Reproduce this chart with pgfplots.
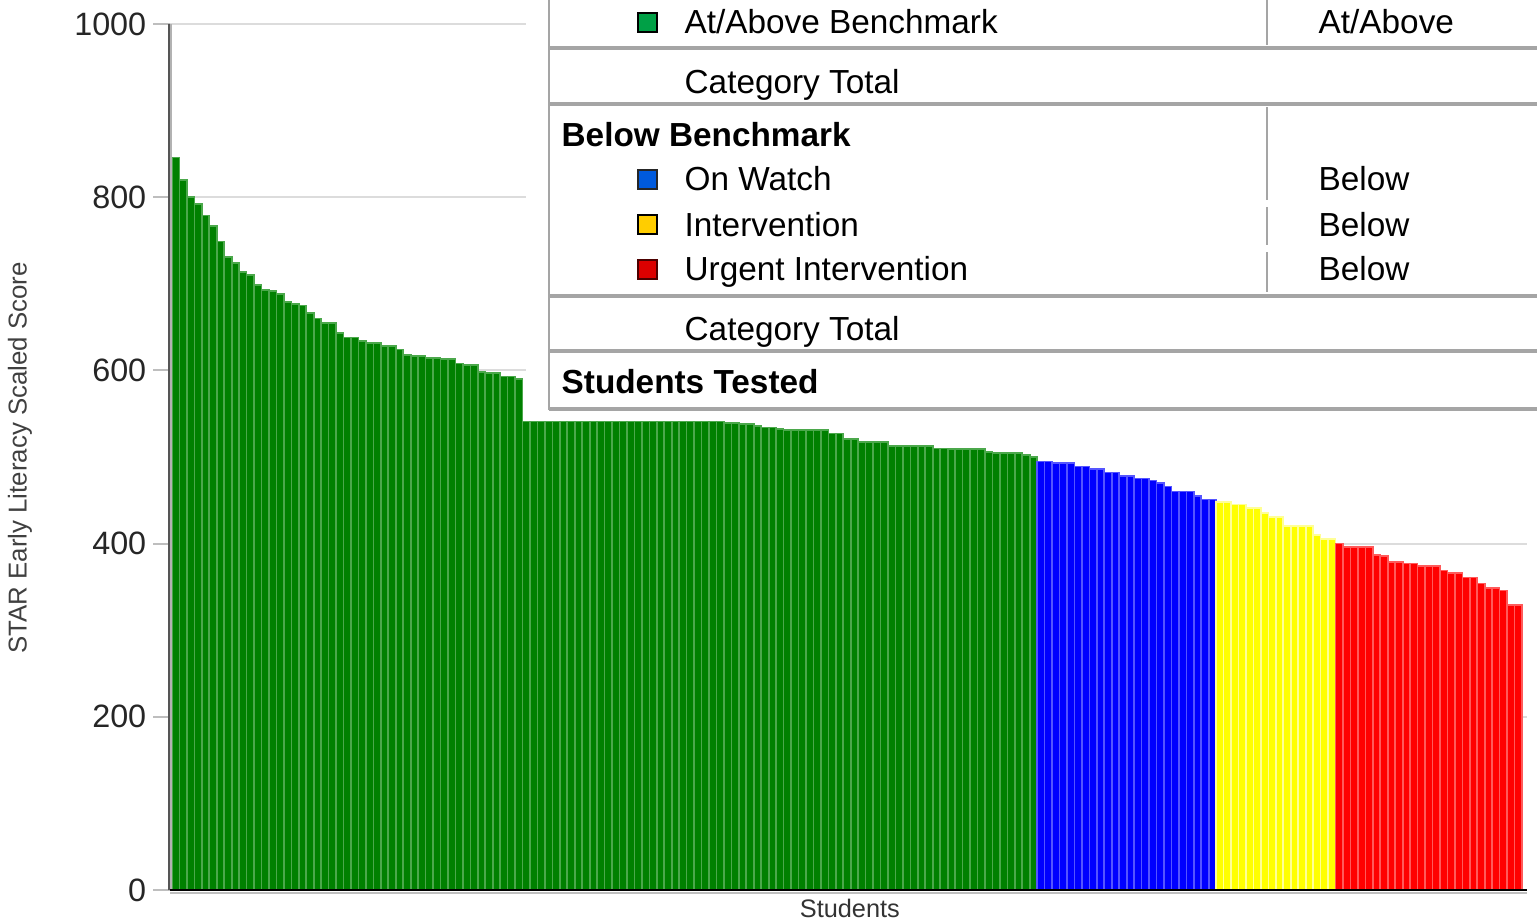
\documentclass[border=0pt]{standalone}
\usepackage{pgfplots}
\pgfplotsset{compat=1.18}
\usepackage{pgfplotstable}
\usepackage{fontspec}
\setmainfont{Liberation Sans}

\definecolor{barG}{RGB}{0,128,0}
\definecolor{barGl}{RGB}{75,168,75}
\definecolor{barB}{RGB}{0,0,255}
\definecolor{barBl}{RGB}{85,85,255}
\definecolor{barY}{RGB}{255,255,0}
\definecolor{barYl}{RGB}{255,255,150}
\definecolor{barR}{RGB}{255,0,0}
\definecolor{barRl}{RGB}{255,90,90}
\definecolor{gridgray}{RGB}{220,220,220}
\definecolor{tickgray}{RGB}{190,190,190}
\definecolor{axisdark}{RGB}{85,85,85}
\definecolor{tline}{RGB}{165,165,165}
\definecolor{sqG}{RGB}{0,160,70}
\definecolor{sqB}{RGB}{0,90,220}
\definecolor{sqY}{RGB}{255,205,0}
\definecolor{sqR}{RGB}{220,0,0}

% students sorted by score, one row per bar
\pgfplotstableread{
x y
1 846
2 820
3 800
4 792
5 779
6 767
7 749
8 731
9 724
10 714
11 710
12 699
13 693
14 692
15 688
16 679
17 677
18 675
19 666
20 660
21 655
22 655
23 643
24 638
25 638
26 634
27 632
28 632
29 628
30 628
31 624
32 618
33 617
34 617
35 614
36 614
37 613
38 613
39 608
40 606
41 606
42 598
43 597
44 597
45 593
46 593
47 590
48 541
49 541
50 541
51 541
52 541
53 541
54 541
55 541
56 541
57 541
58 541
59 541
60 541
61 541
62 541
63 541
64 541
65 541
66 541
67 541
68 541
69 541
70 541
71 541
72 541
73 541
74 541
75 539
76 539
77 538
78 538
79 536
80 534
81 534
82 532
83 531
84 531
85 531
86 531
87 531
88 531
89 527
90 527
91 521
92 521
93 517
94 517
95 517
96 517
97 513
98 513
99 513
100 513
101 513
102 513
103 510
104 510
105 509
106 509
107 509
108 509
109 509
110 506
111 505
112 505
113 505
114 505
115 502
116 500
}\atabove

\pgfplotstableread{
x y
117 495
118 495
119 493
120 493
121 493
122 489
123 489
124 486
125 486
126 482
127 482
128 478
129 478
130 475
131 475
132 473
133 470
134 466
135 460
136 460
137 460
138 455
139 451
140 451
}\onwatch

\pgfplotstableread{
x y
141 448
142 448
143 445
144 445
145 441
146 441
147 435
148 431
149 431
150 420
151 420
152 420
153 420
154 410
155 405
156 405
}\intervention

\pgfplotstableread{
x y
157 400
158 396
159 396
160 396
161 396
162 387
163 386
164 379
165 379
166 377
167 377
168 374
169 374
170 374
171 369
172 366
173 366
174 361
175 361
176 354
177 349
178 349
179 346
180 329
181 329
}\urgent

\begin{document}
\begin{tikzpicture}
\useasboundingbox (0,0) rectangle (461.1pt,-276.6pt);
\begin{axis}[
    at={(51pt,-267pt)}, anchor=south west,
    scale only axis,
    width=407.1pt, height=259.8pt,
    xmin=0.232, xmax=182.17,
    ymin=0, ymax=1000,
    clip=false,
    axis x line=bottom, axis y line=left,
    axis line style={draw=none},
    xtick=\empty,
    ytick={0,200,400,600,800,1000},
    ymajorgrids,
    grid style={draw=gridgray, line width=0.6pt},
    tick align=outside,
    major tick length=5pt,
    y tick style={draw=tickgray, line width=0.6pt},
    /pgf/number format/assume math mode=true,
    /pgf/number format/1000 sep={},
    yticklabel style={font=\fontsize{9.7}{11}\selectfont, text=black!85, xshift=1.4pt},
    xlabel={Students},
    ylabel={STAR Early Literacy Scaled Score},
    every axis x label/.style={at={(axis description cs:0.501,-0.021)}, anchor=center,
        font=\fontsize{7.6}{9}\selectfont, text=black!80},
    every axis y label/.style={at={(axis description cs:-0.1105,0.499)}, rotate=90, anchor=center,
        font=\fontsize{7.75}{9}\selectfont, text=black!75},
]
\addplot[ybar, bar width=1, bar shift=0pt, fill=barG, draw=barGl, line width=0.5pt] table[x=x, y=y] {\atabove};
\addplot[ybar, bar width=1, bar shift=0pt, fill=barB, draw=barBl, line width=0.5pt] table[x=x, y=y] {\onwatch};
\addplot[ybar, bar width=1, bar shift=0pt, fill=barY, draw=barYl, line width=0.5pt] table[x=x, y=y] {\intervention};
\addplot[ybar, bar width=1, bar shift=0pt, fill=barR, draw=barRl, line width=0.5pt] table[x=x, y=y] {\urgent};
% axis lines on top of the bars
\draw[black!30, line width=0.6pt] ([xshift=0.3pt]rel axis cs:0,0) -- ([xshift=0.3pt]rel axis cs:0,1);
\draw[axisdark, line width=0.8pt] ([xshift=-0.3pt]rel axis cs:0,0) -- ([xshift=-0.3pt]rel axis cs:0,1);
\draw[black!25, line width=0.6pt] ([yshift=-0.8pt]rel axis cs:0,0) -- ([yshift=-0.8pt]rel axis cs:1,0);
\draw[black, line width=0.75pt] (rel axis cs:0,0) -- (rel axis cs:1,0);
\end{axis}

% category table over the top right of the chart
\begin{scope}[x=0.3pt, y=-0.3pt, font=\fontsize{10}{12}\selectfont]
\fill[white] (526,-10) rectangle (1560,411);
\draw[tline, line width=0.6pt] (549,-10) -- (549,410);
\foreach \yy in {48,104,296,351,409}
    \draw[tline, line width=1pt] (549,\yy) -- (1560,\yy);
\draw[tline, line width=0.7pt] (1267,-10) -- (1267,45);
\draw[tline, line width=0.7pt] (1267,107) -- (1267,200);
\draw[tline, line width=0.7pt] (1267,207) -- (1267,245);
\draw[tline, line width=0.7pt] (1267,252) -- (1267,292);

\filldraw[fill=sqG, draw=black, line width=0.8pt] (638,13) rectangle (657,32);
\filldraw[fill=sqB, draw=black!85, line width=0.8pt] (638,170) rectangle (657,189);
\filldraw[fill=sqY, draw=black, line width=0.8pt] (638,215) rectangle (657,234);
\filldraw[fill=sqR, draw=black!70!red, line width=0.8pt] (638,260) rectangle (657,279);

\node[anchor=base west, inner sep=0pt] at (684,33.5) {At/Above Benchmark};
\node[anchor=base west, inner sep=0pt] at (1318,33.5) {At/Above};
\node[anchor=base west, inner sep=0pt] at (684,93.5) {Category Total};
\node[anchor=base west, inner sep=0pt, font=\fontsize{10}{12}\selectfont\bfseries] at (561,146.5) {Below Benchmark};
\node[anchor=base west, inner sep=0pt] at (684,190.5) {On Watch};
\node[anchor=base west, inner sep=0pt] at (1318,190.5) {Below};
\node[anchor=base west, inner sep=0pt] at (684,236.5) {Intervention};
\node[anchor=base west, inner sep=0pt] at (1318,236.5) {Below};
\node[anchor=base west, inner sep=0pt] at (684,280.5) {Urgent Intervention};
\node[anchor=base west, inner sep=0pt] at (1318,280.5) {Below};
\node[anchor=base west, inner sep=0pt] at (684,340.5) {Category Total};
\node[anchor=base west, inner sep=0pt, font=\fontsize{10}{12}\selectfont\bfseries] at (561,393.5) {Students Tested};
\end{scope}
\end{tikzpicture}
\end{document}
